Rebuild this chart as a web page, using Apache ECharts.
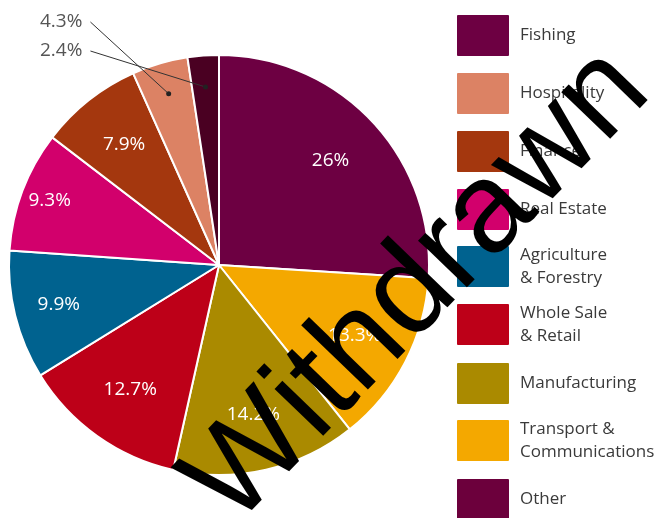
<!DOCTYPE html>
<html><head><meta charset="utf-8">
<script src="https://cdn.jsdelivr.net/npm/echarts@6/dist/echarts.min.js"></script>
<style>html,body{margin:0;padding:0;background:#fff}#c{width:659px;height:518px}</style>
</head><body><div id="c"></div>
<script>
// Slices, clockwise from 12 o'clock
const sliceNames = ['Fishing', 'Transport & Communications', 'Manufacturing', 'Whole Sale & Retail',
  'Agriculture & Forestry', 'Real Estate', 'Finance', 'Hospitality', 'Other'];
const sliceValues = [26, 13.3, 14.2, 12.7, 9.9, 9.3, 7.9, 4.3, 2.4];
const sliceColors = ['#6d0042', '#f4a800', '#aa8a00', '#bd0018', '#00628f', '#d2006c', '#a4370e', '#dc8264', '#4a0022'];
// Legend, top to bottom
const legendNames = ['Fishing', 'Hospitality', 'Finance', 'Real Estate', 'Agriculture & Forestry',
  'Whole Sale & Retail', 'Manufacturing', 'Transport & Communications', 'Other'];
const legendLabels = ['Fishing', 'Hospitality', 'Finance', 'Real Estate', 'Agriculture\n& Forestry',
  'Whole Sale\n& Retail', 'Manufacturing', 'Transport &\nCommunications', 'Other'];
const legendColors = ['#6d0042', '#dc8264', '#a4370e', '#d2006c', '#00628f', '#bd0018', '#aa8a00', '#f4a800', '#6c003c'];
const outsideLabelled = ['Hospitality', 'Other'];
const watermarkText = 'Withdrawn';

const chart = echarts.init(document.getElementById('c'), null, {renderer: 'canvas'});

// ---- layout / style ----
const CX = 219, CY = 265, R = 210;
const DOT_R = 0.85 * R;
const OUT_FONT = '19px "Open Sans", sans-serif';
const outsideLabelPos = {'Hospitality': [40, 22], 'Other': [40, 51]};
const labelRadiusExtra = {'Real Estate': 28, 'Agriculture & Forestry': 12};
const legendTextStyle = {fontFamily: '"Open Sans", sans-serif', fontSize: 17, color: '#3a3a3a', lineHeight: 23, padding: [0, 0, 0, 7]};

const total = sliceValues.reduce((a, b) => a + b, 0);
function midAngle(idx) { // clockwise from 12 o'clock, radians
  let acc = 0;
  for (let i = 0; i < idx; i++) acc += sliceValues[i];
  return (acc + sliceValues[idx] / 2) / total * Math.PI * 2;
}
function dotPoint(idx) {
  const a = midAngle(idx);
  return [CX + DOT_R * Math.sin(a), CY - DOT_R * Math.cos(a)];
}
const measureCtx = document.createElement('canvas').getContext('2d');
measureCtx.font = OUT_FONT;

const legends = legendNames.map((n, i) => {
  const twoLine = legendLabels[i].indexOf('\n') >= 0;
  return {
    orient: 'vertical', left: 457, top: 15 + 58 * i - (twoLine ? 3.5 : 0), padding: 0,
    itemWidth: 50, itemHeight: 39, icon: 'rect', selectedMode: false,
    data: [{name: n, itemStyle: {color: legendColors[i], borderColor: legendColors[i]}}],
    formatter: () => legendLabels[i],
    textStyle: legendTextStyle
  };
});

const mainData = sliceNames.map((n, i) => {
  const d = {name: n, value: sliceValues[i], itemStyle: {color: sliceColors[i]}};
  if (outsideLabelled.indexOf(n) >= 0) {
    d.label = {show: true, position: 'outside', formatter: '{c}%', color: '#555', fontSize: 19,
      fontFamily: '"Open Sans", sans-serif'};
    d.labelLine = {show: false};
  }
  return d;
});
const overlayData = sliceNames.map((n, i) => ({
  name: n, value: sliceValues[i],
  label: {show: outsideLabelled.indexOf(n) < 0}
}));

// leader lines + end dots for the two small slices
const leaders = [];
outsideLabelled.forEach(n => {
  const idx = sliceNames.indexOf(n);
  const end = dotPoint(idx);
  const pos = outsideLabelPos[n];
  const w = measureCtx.measureText(sliceValues[idx] + '%').width;
  const sx = pos[0] + w + 8, sy = pos[1];
  leaders.push({type: 'line', shape: {x1: sx, y1: sy, x2: end[0], y2: end[1]},
    style: {stroke: '#333', lineWidth: 1}, z: 50, silent: true});
  leaders.push({type: 'circle', shape: {cx: end[0], cy: end[1], r: 2.5}, style: {fill: '#222'}, z: 50, silent: true});
});

chart.setOption({
  backgroundColor: '#fff',
  animation: false,
  legend: legends,
  series: [
    {
      type: 'pie', center: [CX, CY], radius: [0, R], startAngle: 90, clockwise: true,
      avoidLabelOverlap: false, silent: true,
      itemStyle: {borderColor: '#fff', borderWidth: 2},
      label: {show: false}, labelLine: {show: false},
      labelLayout: function (p) {
        const pos = outsideLabelPos[sliceNames[p.dataIndex]];
        if (!pos) return;
        return {x: pos[0], y: pos[1], align: 'left', verticalAlign: 'middle'};
      },
      data: mainData
    },
    {
      type: 'pie', center: [CX, CY], radius: [0, 300], startAngle: 90, clockwise: true,
      avoidLabelOverlap: false, silent: true,
      itemStyle: {color: 'rgba(0,0,0,0)', borderWidth: 0},
      label: {show: true, position: 'inside', formatter: '{c}%', color: '#fff', fontSize: 19,
        fontFamily: '"Open Sans", sans-serif'},
      labelLine: {show: false},
      labelLayout: function (p) {
        const extra = labelRadiusExtra[sliceNames[p.dataIndex]];
        if (!extra) return;
        const a = midAngle(p.dataIndex);
        return {dx: extra * Math.sin(a), dy: -extra * Math.cos(a)};
      },
      data: overlayData
    }
  ],
  graphic: leaders.concat([{
    type: 'text', x: 418, y: 287, rotation: 46 * Math.PI / 180, z: 100,
    style: {text: watermarkText, fontSize: 128, fontFamily: '"Liberation Sans", Arial, sans-serif',
      fill: '#000', align: 'center', verticalAlign: 'middle'}
  }])
});
</script></body></html>
